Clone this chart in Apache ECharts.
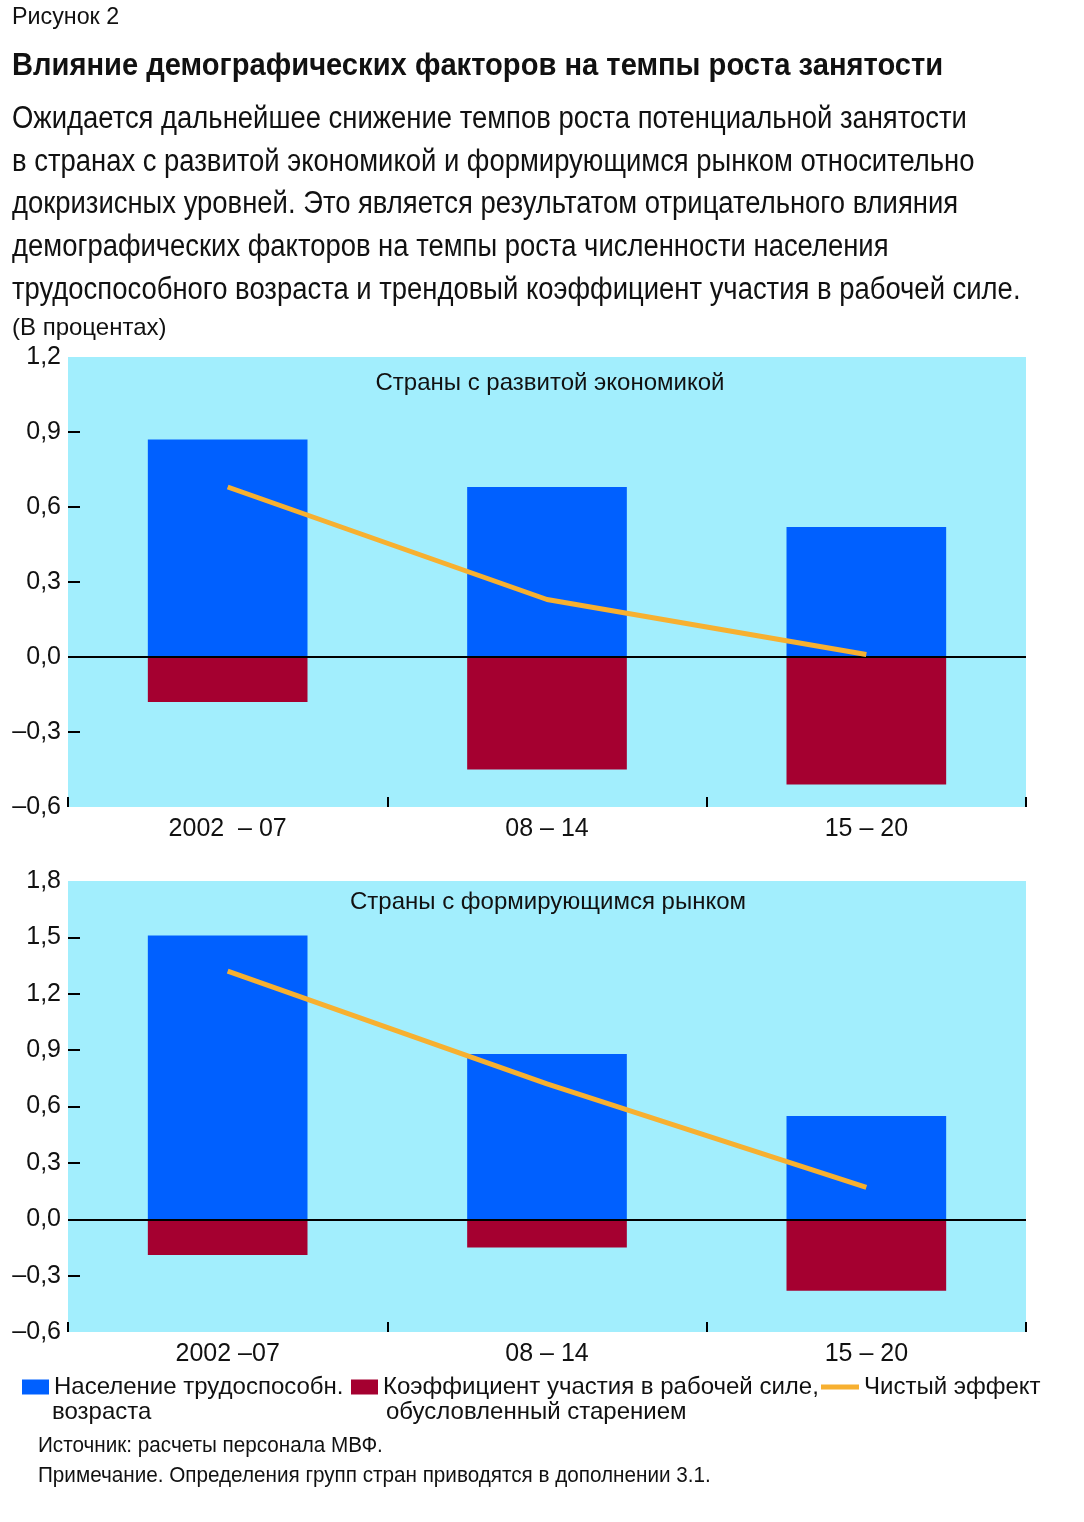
<!DOCTYPE html>
<html>
<head>
<meta charset="utf-8">
<script src="https://cdn.jsdelivr.net/npm/echarts@6/dist/echarts.min.js"></script>
<style>
  body { margin: 0; background: #fff; }
  #page { position: relative; width: 1084px; height: 1522px; font-family: "Liberation Sans", Arial, sans-serif; color: #111; }
  #chart { position: absolute; left: 0; top: 0; width: 1084px; height: 1522px; }
  .t { position: absolute; left: 12px; white-space: nowrap; transform-origin: 0 0; }
</style>
</head>
<body>
<div id="page">
  <div id="chart"></div>
  <div class="t" style="top:2px;font-size:24px;transform:scaleX(0.97);">Рисунок 2</div>
  <div class="t" style="top:47px;font-size:31px;font-weight:bold;transform:scaleX(0.94);">Влияние демографических факторов на темпы роста занятости</div>
  <div class="t" style="top:97px;font-size:31px;line-height:42.7px;transform:scaleX(0.885);">Ожидается дальнейшее снижение темпов роста потенциальной занятости<br>в странах с развитой экономикой и формирующимся рынком относительно<br>докризисных уровней. Это является результатом отрицательного влияния<br>демографических факторов на темпы роста численности населения<br>трудоспособного возраста и трендовый коэффициент участия в рабочей силе.</div>
  <div class="t" style="top:313px;font-size:24px;">(В процентах)</div>
  <div class="t" style="left:38px;top:1432px;font-size:22px;transform:scaleX(0.94);">Источник: расчеты персонала МВФ.</div>
  <div class="t" style="left:38px;top:1462px;font-size:22px;transform:scaleX(0.94);">Примечание. Определения групп стран приводятся в дополнении 3.1.</div>
</div>
<script>
const periods1 = ['2002  – 07', '08 – 14', '15 – 20'];
const periods2 = ['2002 –07', '08 – 14', '15 – 20'];

// страны с развитой экономикой
const advPop = [0.87, 0.68, 0.52];
const advPart = [-0.18, -0.45, -0.51];
const advNet = [0.68, 0.23, 0.01];

// страны с формирующимся рынком
const emPop = [1.51, 0.88, 0.55];
const emPart = [-0.19, -0.15, -0.38];
const emNet = [1.32, 0.72, 0.17];

const ticks1 = [-0.3, 0.3, 0.6, 0.9];
const ticks2 = [-0.3, 0.3, 0.6, 0.9, 1.2, 1.5];

const namePop = 'Население трудоспособн.';
const namePart = 'Коэффициент участия в рабочей силе,';
const nameNet = 'Чистый эффект';

const font = '"Liberation Sans", Arial, sans-serif';
const blue = '#0060ff', red = '#a50030', orange = '#f7b030', cyan = '#a2eefd';

function fmt(v) {
  return v.toFixed(1).replace('.', ',').replace('-', '–');
}

function yAxis(gi, min, max, ticks) {
  return {
    type: 'value', gridIndex: gi, min: min, max: max, interval: 0.3,
    splitLine: { show: false },
    axisLine: { show: false },
    axisTick: { show: true, inside: true, length: 12, customValues: ticks, lineStyle: { color: '#000', width: 2 } },
    axisLabel: { formatter: fmt, fontSize: 25, color: '#111', fontFamily: font, margin: 7 }
  };
}

function xAxis(gi, cats) {
  return {
    type: 'category', gridIndex: gi, data: cats, position: 'bottom',
    axisLine: { show: false, onZero: false },
    axisTick: { show: true, inside: true, length: 10, lineStyle: { color: '#000', width: 2 } },
    axisLabel: { fontSize: 25, color: '#111', fontFamily: font, margin: 10 }
  };
}

function series(i, pop, part, net) {
  return [
    { name: namePop, type: 'bar', xAxisIndex: i, yAxisIndex: i, stack: 's' + i, data: pop,
      barWidth: '50%', itemStyle: { color: blue },
      markLine: { silent: true, symbol: 'none', label: { show: false },
        lineStyle: { color: '#000', width: 2, type: 'solid' }, data: [{ yAxis: 0 }] } },
    { name: namePart, type: 'bar', xAxisIndex: i, yAxisIndex: i, stack: 's' + i, data: part,
      barWidth: '50%', itemStyle: { color: red } },
    { name: nameNet, type: 'line', xAxisIndex: i, yAxisIndex: i, data: net,
      symbol: 'none', lineStyle: { color: orange, width: 5 }, itemStyle: { color: orange }, z: 5 }
  ];
}

const legendText = { fontSize: 24, color: '#111', fontFamily: font };

const chart = echarts.init(document.getElementById('chart'), null, { renderer: 'canvas' });
chart.setOption({
  animation: false,
  textStyle: { fontFamily: font },
  title: [
    { text: 'Страны с развитой экономикой', left: 545, top: 366, textAlign: 'center',
      textStyle: { fontSize: 24, fontWeight: 'normal', color: '#111', fontFamily: font } },
    { text: 'Страны с формирующимся рынком', left: 543, top: 885, textAlign: 'center',
      textStyle: { fontSize: 24, fontWeight: 'normal', color: '#111', fontFamily: font } }
  ],
  grid: [
    { left: 68, top: 357, width: 958, height: 450, show: true, backgroundColor: cyan, borderWidth: 0 },
    { left: 68, top: 881, width: 958, height: 451, show: true, backgroundColor: cyan, borderWidth: 0 }
  ],
  xAxis: [xAxis(0, periods1), xAxis(1, periods2)],
  yAxis: [yAxis(0, -0.6, 1.2, ticks1), yAxis(1, -0.6, 1.8, ticks2)],
  legend: [
    { data: [namePop], left: 22, top: 1375, padding: 0, itemWidth: 27, itemHeight: 15, icon: 'rect', textStyle: legendText },
    { data: [namePart], left: 351, top: 1375, padding: 0, itemWidth: 27, itemHeight: 15, icon: 'rect', textStyle: legendText },
    { data: [{ name: nameNet, icon: 'rect' }], left: 821, top: 1375, padding: 0, itemWidth: 38, itemHeight: 5, textStyle: legendText }
  ],
  graphic: [
    { type: 'text', left: 52, top: 1400, style: { text: 'возраста', fontSize: 24, fill: '#111', fontFamily: font } },
    { type: 'text', left: 386, top: 1400, style: { text: 'обусловленный старением', fontSize: 24, fill: '#111', fontFamily: font } }
  ],
  series: series(0, advPop, advPart, advNet).concat(series(1, emPop, emPart, emNet))
});
</script>
</body>
</html>
